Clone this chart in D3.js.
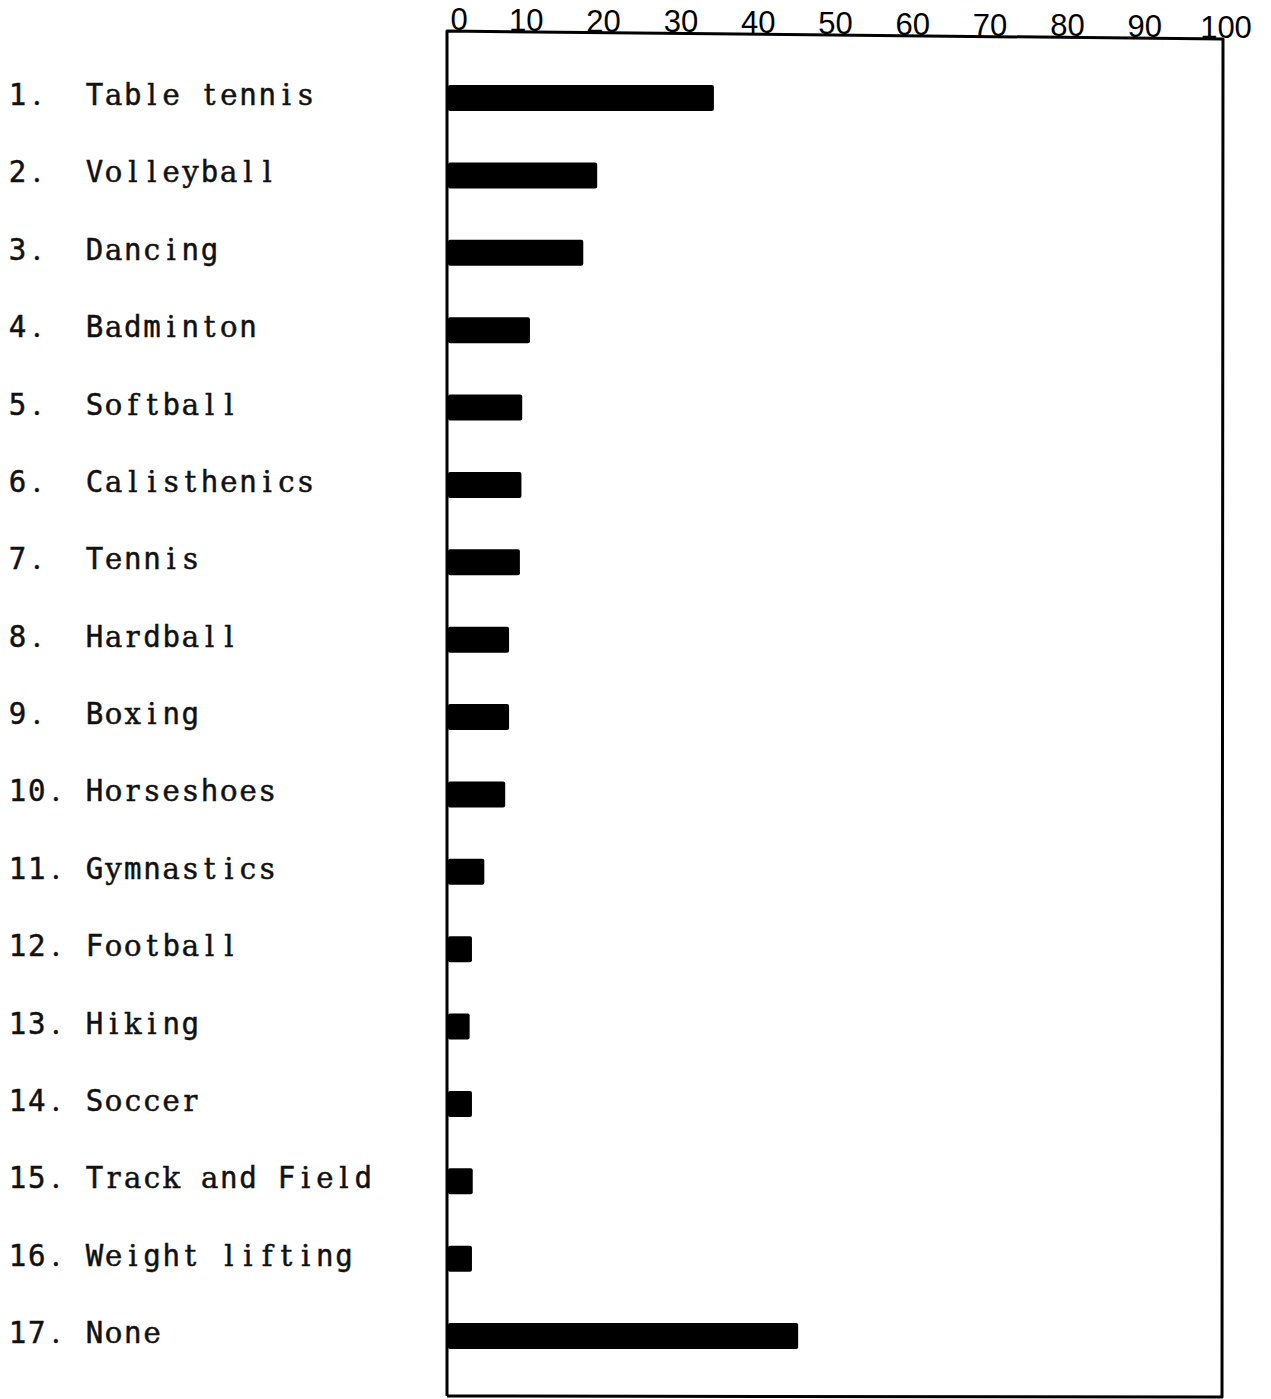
<!DOCTYPE html>
<html>
<head>
<meta charset="utf-8">
<script src="https://cdn.jsdelivr.net/npm/d3@7"></script>
<style>
  html, body { margin: 0; padding: 0; background: #fff; }
  svg { display: block; }
</style>
</head>
<body>
<script>
// Recreational activities, percent of respondents
const ranks = ["1.", "2.", "3.", "4.", "5.", "6.", "7.", "8.", "9.", "10.", "11.", "12.", "13.", "14.", "15.", "16.", "17."];
const activities = [
  "Table tennis", "Volleyball", "Dancing", "Badminton", "Softball",
  "Calisthenics", "Tennis", "Hardball", "Boxing", "Horseshoes",
  "Gymnastics", "Football", "Hiking", "Soccer", "Track and Field",
  "Weight lifting", "None"
];
const percents = [34.4, 19.3, 17.5, 10.6, 9.6, 9.5, 9.3, 7.9, 7.9, 7.4, 4.7, 3.1, 2.8, 3.1, 3.2, 3.1, 45.3];
const tickValues = [0, 10, 20, 30, 40, 50, 60, 70, 80, 90, 100];

const W = 1271, H = 1399;
const svg = d3.select("body").append("svg")
  .attr("width", W).attr("height", H)
  .style("background", "#fff");

const x = d3.scaleLinear().domain([0, 100]).range([448, 1221]);
const y = d3.scalePoint().domain(activities).range([98, 1336]);

// top rule is drawn slightly rising from right to left, as on the hand-ruled sheet
const topY = d3.scaleLinear().domain([0, 100]).range([31, 39]);
const bottomY = 1396;

// frame
const frame = d3.path();
frame.moveTo(x(0) - 1, bottomY);
frame.lineTo(x(0) - 1, topY(0));
frame.lineTo(x(100) + 2, topY(100));
frame.lineTo(x(100) + 1, bottomY + 1);
frame.lineTo(x(0) - 1, bottomY);
svg.append("path")
  .attr("d", frame.toString())
  .attr("fill", "none")
  .attr("stroke", "#000")
  .attr("stroke-width", 3)
  .attr("stroke-linejoin", "round");

// top scale
const axis = d3.axisTop(x).tickValues(tickValues).tickSize(0).tickPadding(0);
const gAxis = svg.append("g").call(axis);
gAxis.select(".domain").remove();
gAxis.selectAll(".tick")
  .attr("transform", d => `translate(${x(d)},${topY(d) - 1})`);
gAxis.selectAll(".tick text")
  .attr("y", 0)
  .attr("dy", 0)
  .attr("dx", d => d === 0 ? 11 : (d === 100 ? 5 : 1))
  .attr("fill", "#000")
  .style("font-family", "'Liberation Sans', Arial, sans-serif")
  .style("font-size", "31px")
  .style("font-weight", "normal");

// bars
svg.append("g").selectAll("rect")
  .data(activities)
  .join("rect")
  .attr("x", x(0))
  .attr("y", d => y(d) - 13)
  .attr("width", (d, i) => x(percents[i]) - x(0))
  .attr("height", 26)
  .attr("rx", 2)
  .attr("fill", "#000");

// typewritten row labels: fixed-pitch cells, serif glyphs centred in each cell
const pitch = 19.2, startX = 8, squeeze = 0.97;
const cellW = (pitch - 1) / squeeze;
const lineText = (d, i) => {
  const r = ranks[i];
  return r + " ".repeat(Math.max(1, 4 - r.length)) + d;
};

const labels = svg.append("g")
  .style("font-family", "'DejaVu Serif', 'Liberation Serif', serif")
  .style("font-size", "30px")
  .style("white-space", "pre")
  .attr("fill", "#111")
  .attr("stroke", "#111")
  .attr("stroke-width", 0.5);

labels.selectAll("text")
  .data(activities)
  .join("text")
  .attr("xml:space", "preserve")
  .attr("transform", d => `translate(0,${y(d) + 7}) scale(${squeeze},1)`)
  .each(function (d, i) {
    const chars = Array.from(lineText(d, i));
    d3.select(this).selectAll("tspan")
      .data(chars)
      .join("tspan")
      .attr("x", (c, k) => (startX + k * pitch + pitch / 2) / squeeze)
      .attr("y", 0)
      .attr("text-anchor", "middle")
      .text(c => c)
      .each(function () {
        // letters wider than one cell (m, W) take the narrow fixed-pitch form
        if (this.getComputedTextLength() > cellW) {
          d3.select(this).style("font-family", "'DejaVu Sans Mono', 'Liberation Mono', monospace");
        }
      });
  });
</script>
</body>
</html>
